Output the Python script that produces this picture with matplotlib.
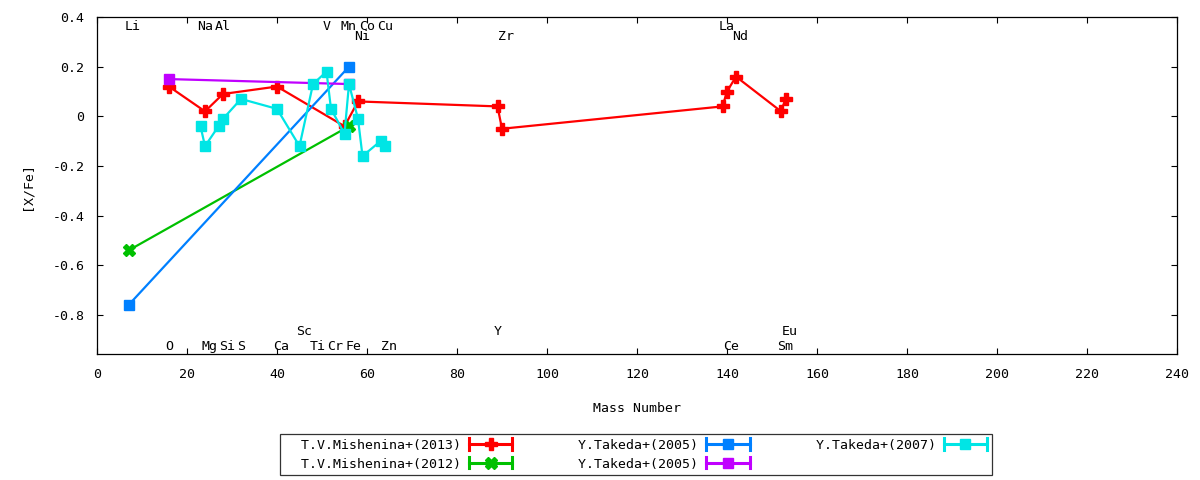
import matplotlib
matplotlib.use('Agg')
import matplotlib.pyplot as plt
from matplotlib.lines import Line2D
from matplotlib.legend_handler import HandlerLine2D

plt.rcParams['font.family'] = ['DejaVu Sans Mono']
plt.rcParams['axes.unicode_minus'] = False

# data: [X/Fe] against mass number
mish13_x = [16, 24, 28, 40, 55, 58, 89, 90, 139, 140, 142, 152, 153]
mish13_y = [0.12, 0.02, 0.09, 0.12, -0.04, 0.06, 0.04, -0.05, 0.04, 0.10, 0.16, 0.02, 0.07]

mish12_x = [7, 56]
mish12_y = [-0.54, -0.04]

tak05a_x = [7, 56]
tak05a_y = [-0.76, 0.20]

tak05b_x = [16, 56]
tak05b_y = [0.15, 0.13]

tak07_x = [23, 24, 27, 28, 32, 40, 45, 48, 51, 52, 55, 56, 58, 59, 63, 64]
tak07_y = [-0.04, -0.12, -0.04, -0.01, 0.07, 0.03, -0.12, 0.13, 0.18, 0.03,
           -0.07, 0.13, -0.01, -0.16, -0.10, -0.12]

# element labels (name, mass) in four rows
top_row1 = [('Li', 7), ('Na', 23), ('Al', 27), ('V', 51), ('Mn', 55),
            ('Co', 59), ('Cu', 63), ('La', 139)]
top_row2 = [('Ni', 58), ('Zr', 90), ('Nd', 142)]
bot_row1 = [('Sc', 45), ('Y', 89), ('Eu', 153)]
bot_row2 = [('O', 16), ('Mg', 24), ('Si', 28), ('S', 32), ('Ca', 40),
            ('Ti', 48), ('Cr', 52), ('Fe', 56), ('Zn', 64), ('Ce', 140),
            ('Sm', 152)]

x_ticks = list(range(0, 241, 20))
y_ticks = [-0.8, -0.6, -0.4, -0.2, 0, 0.2, 0.4]
y_ticklabels = ['-0.8', '-0.6', '-0.4', '-0.2', '0', '0.2', '0.4']


class CapHandler(HandlerLine2D):
    # gnuplot-like key sample: line with end caps and a marker in the middle
    def create_artists(self, legend, orig_handle, xdescent, ydescent,
                       width, height, fontsize, trans):
        artists = super().create_artists(legend, orig_handle, xdescent, ydescent,
                                         width, height, fontsize, trans)
        for a in artists:
            a.set_linewidth(2.2)
        y = height / 2 - ydescent
        for x in (-xdescent, -xdescent + width):
            cap = Line2D([x, x], [y - 4, y + 4], color=orig_handle.get_color(), lw=2.2)
            cap.set_transform(trans)
            artists.append(cap)
        return artists


fig = plt.figure(figsize=(12, 4.8), dpi=100)
ax = fig.add_axes([97 / 1200, 1 - 354 / 480, 1080 / 1200, 337 / 480])

fs = 9.5
series = [
    (mish13_x, mish13_y, '#ff0000', 'P', 8.5, 'T.V.Mishenina+(2013)'),
    (mish12_x, mish12_y, '#00c000', 'X', 8.5, 'T.V.Mishenina+(2012)'),
    (tak05a_x, tak05a_y, '#0080ff', 's', 7.5, 'Y.Takeda+(2005)'),
    (tak05b_x, tak05b_y, '#c000ff', 's', 7.5, 'Y.Takeda+(2005)'),
    (tak07_x, tak07_y, '#00e5e5', 's', 7.5, 'Y.Takeda+(2007)'),
]
handles = []
for x, y, c, m, ms, lab in series:
    h, = ax.plot(x, y, color=c, lw=1.6, marker=m, ms=ms, mec=c, mfc=c,
                 label=lab.rjust(22))
    handles.append(h)

for rows, yv in ((top_row1, 0.36), (top_row2, 0.32), (bot_row1, -0.868), (bot_row2, -0.925)):
    for name, mass in rows:
        ax.text(mass - 0.78, yv, name, ha='left', va='center', fontsize=fs)

ax.set_xlim(0, 240)
ax.set_ylim(-0.957, 0.4)
ax.set_xticks(x_ticks)
ax.set_yticks(y_ticks)
ax.set_yticklabels(y_ticklabels)
ax.tick_params(direction='in', length=4.5, width=0.8, top=True, right=True,
               labelsize=fs)
ax.tick_params(axis='x', pad=10)
ax.tick_params(axis='y', pad=9)
for s in ax.spines.values():
    s.set_linewidth(0.9)

ax.set_xlabel('Mass Number', fontsize=fs, labelpad=15)
ax.set_ylabel('[X/Fe]', fontsize=fs, labelpad=14)

leg = fig.legend(handles=handles, loc='center', bbox_to_anchor=(0.530, 0.053),
                 ncol=3, markerfirst=False, numpoints=1, fontsize=fs,
                 handlelength=3.3, handletextpad=0.6, columnspacing=0.75,
                 labelspacing=0.45, borderpad=0.35, fancybox=False,
                 handler_map={Line2D: CapHandler()})
leg.get_frame().set_edgecolor('black')
leg.get_frame().set_linewidth(0.9)

fig.savefig('out.png', dpi=100)
